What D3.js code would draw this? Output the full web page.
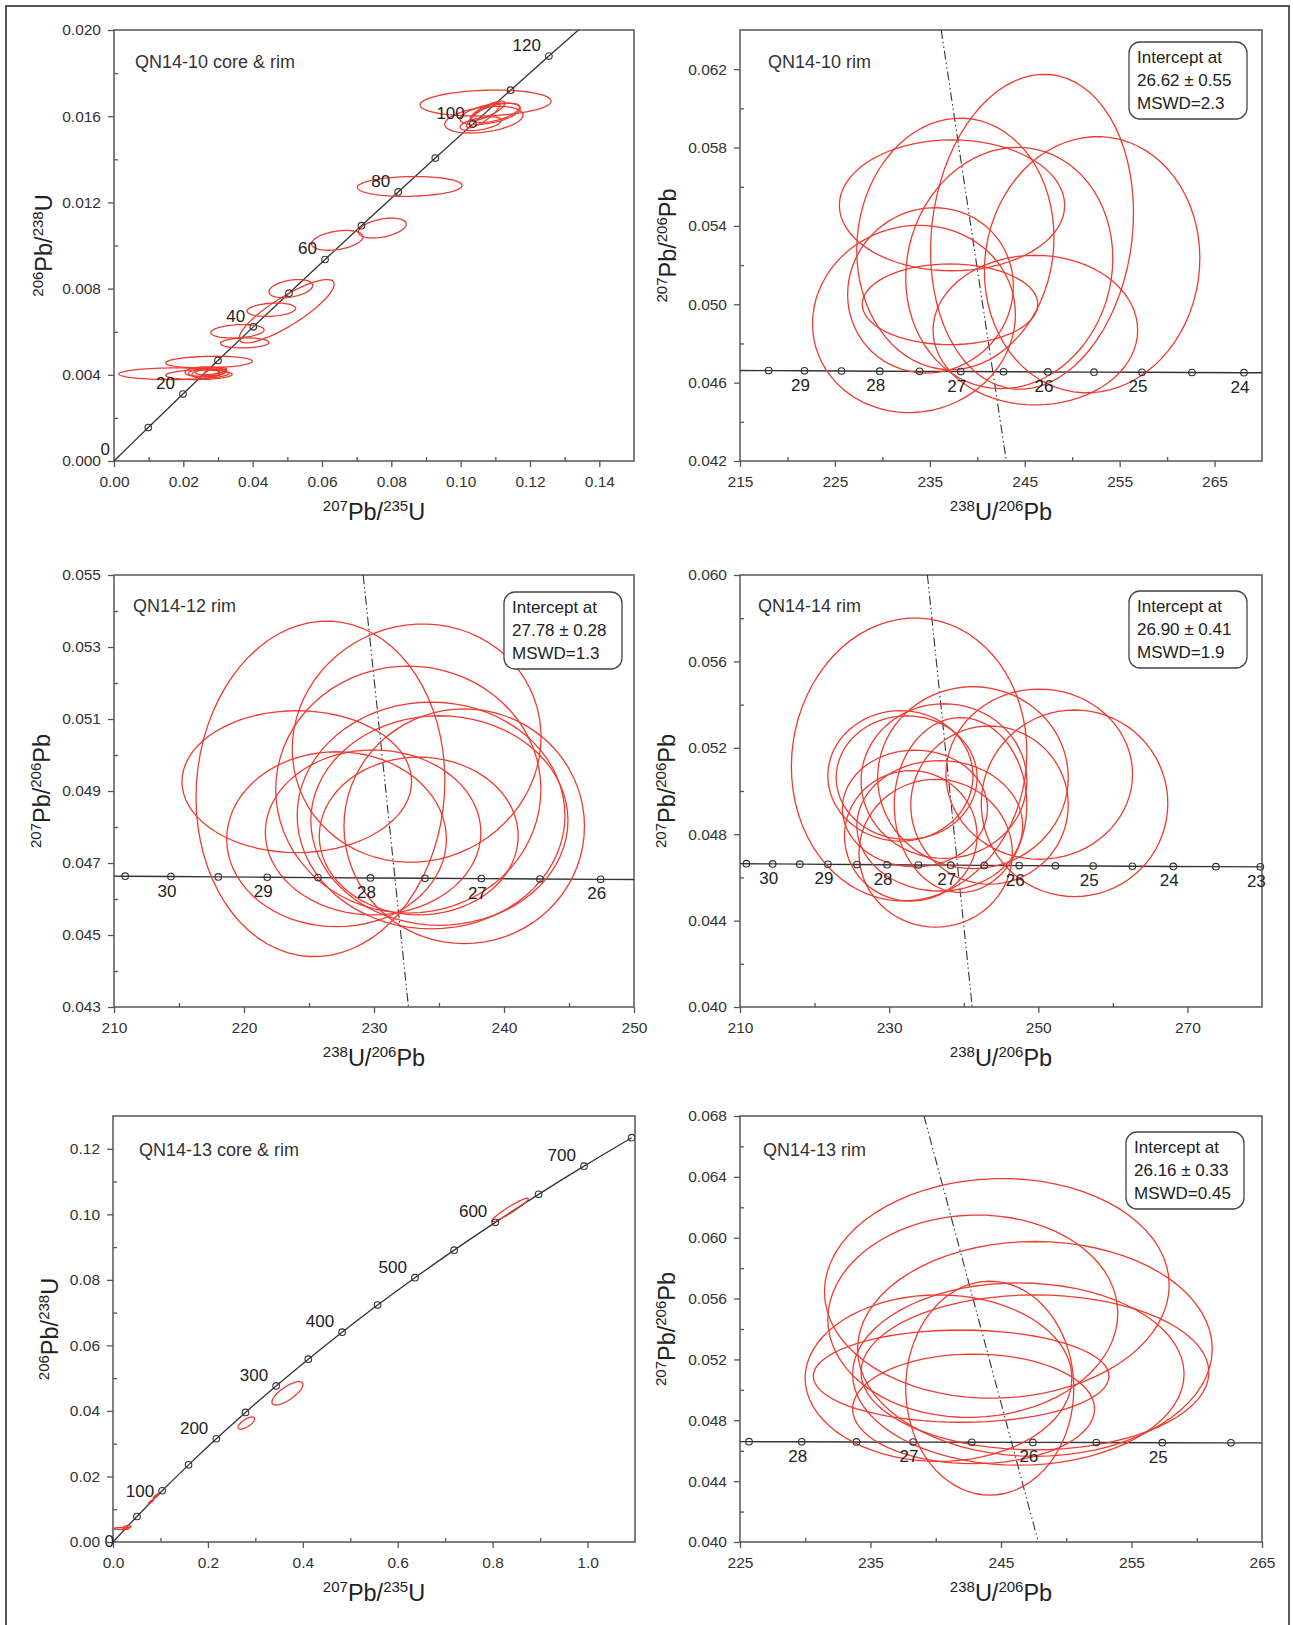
<!DOCTYPE html>
<html>
<head>
<meta charset="utf-8">
<script src="https://cdn.jsdelivr.net/npm/d3@7"></script>
<style>
body{margin:0;background:#fff;}
svg{display:block;font-family:"Liberation Sans",Arial,sans-serif;}
</style>
</head>
<body>
<svg id="fig" width="1293" height="1625"></svg>
<script>
// ---- concordia reference points (age Ma, x, y) ----
const wethAges1 = [0,10,20,30,40,50,60,70,80,90,100,110,120,130];
const wethX1 = [0,0.009897,0.019892,0.029986,0.040180,0.050475,0.060872,0.071372,0.081975,0.092683,0.103497,0.114418,0.125447,0.136587];
const wethY1 = [0,0.0015525,0.0031073,0.0046646,0.0062243,0.0077864,0.009351,0.010918,0.012487,0.014059,0.015633,0.017209,0.018789,0.020370];
const wethLabels1 = [0,20,40,60,80,100,120];

const wethAges5 = [0,50,100,150,200,250,300,350,400,450,500,550,600,650,700,750];
const wethX5 = [0,0.050475,0.103497,0.15920,0.21771,0.27917,0.34374,0.41156,0.48281,0.55766,0.63628,0.71887,0.80563,0.89677,0.99251,1.09308];
const wethY5 = [0,0.0077864,0.015633,0.023541,0.031511,0.039543,0.047637,0.055795,0.064016,0.072300,0.080650,0.089064,0.097544,0.106089,0.114702,0.123378];
const wethLabels5 = [0,100,200,300,400,500,600,700];

const twAges = [31,30.5,30,29.5,29,28.5,28,27.5,27,26.5,26,25.5,25,24.5,24,23.5,23,22.5];
const twX = [207.45,210.86,214.38,218.02,221.79,225.69,229.73,233.92,238.26,242.76,247.44,252.30,257.36,262.62,268.10,273.82,279.78,286.01];
const twY = [0.046643,0.046634,0.046624,0.046614,0.046604,0.046595,0.046585,0.046575,0.046566,0.046556,0.046546,0.046536,0.046527,0.046517,0.046507,0.046498,0.046488,0.046478];

// ---- error ellipses: [cx, cy, half-width x, half-width y, rho] ----
const ell1 = [
  [0.1072,0.01661,0.0189,0.00060,0.15],
  [0.1067,0.01584,0.0113,0.00062,0.35],
  [0.1085,0.01611,0.0087,0.00050,0.5],
  [0.1065,0.01604,0.0048,0.00058,0.85],
  [0.1078,0.01625,0.0050,0.00045,0.8],
  [0.1058,0.01565,0.0060,0.00032,0.5],
  [0.1100,0.01615,0.0070,0.00045,0.6],
  [0.0853,0.01274,0.0151,0.00046,0.1],
  [0.0774,0.01081,0.0069,0.00046,0.4],
  [0.0644,0.01024,0.0074,0.00046,0.35],
  [0.0498,0.00695,0.0137,0.00147,0.85],
  [0.0510,0.00800,0.0063,0.00042,0.35],
  [0.0454,0.00702,0.0070,0.00031,0.2],
  [0.0356,0.00602,0.0077,0.00031,0.2],
  [0.0377,0.00548,0.0070,0.00023,0.1],
  [0.0274,0.00459,0.0125,0.00027,0.15],
  [0.0173,0.00405,0.0159,0.00027,0.05],
  [0.0245,0.00400,0.0096,0.00022,0.1],
  [0.0270,0.00412,0.0055,0.00020,0.3],
  [0.0280,0.00418,0.0045,0.00018,0.4],
  [0.0265,0.00405,0.0040,0.00020,0.2],
  [0.0290,0.00410,0.0030,0.00017,0.3],
  [0.0255,0.00415,0.0050,0.00022,0.2]
];
const ell2 = [
  [245.77,0.05370,10.69,0.00804,0.12],
  [252.10,0.05202,11.35,0.00654,0.05],
  [237.34,0.05505,11.87,0.00334,0.0],
  [237.69,0.05308,10.39,0.00642,0.05],
  [233.33,0.04925,10.69,0.00478,0.05],
  [235.07,0.05071,8.73,0.00422,0.05],
  [237.13,0.05000,9.25,0.00206,0.0],
  [243.37,0.05185,10.91,0.00616,0.08],
  [246.12,0.04868,10.78,0.00382,0.0]
];
const ell3 = [
  [225.88,0.04906,9.57,0.00466,0.05],
  [233.28,0.05033,9.57,0.00331,0.05],
  [224.06,0.04926,8.83,0.00197,0.0],
  [227.12,0.04766,8.45,0.00243,0.0],
  [232.64,0.04904,10.2,0.00343,0.0],
  [234.39,0.04832,10.3,0.00315,0.0],
  [236.94,0.04802,9.25,0.00326,0.0],
  [235.03,0.04818,9.89,0.00291,0.0],
  [229.93,0.04785,8.29,0.00229,0.0],
  [233.44,0.04775,7.65,0.00219,0.0]
];
const ell4 = [
  [232.68,0.05146,15.79,0.00655,0.05],
  [250.13,0.05078,12.51,0.00394,0.0],
  [254.86,0.04943,12.51,0.00432,0.0],
  [241.24,0.05062,12.78,0.00421,0.0],
  [237.35,0.05046,11.12,0.00358,0.0],
  [231.51,0.05070,9.73,0.00302,0.0],
  [232.35,0.05062,9.45,0.00286,0.0],
  [233.46,0.04919,9.73,0.00270,0.0],
  [236.24,0.04712,10.28,0.00342,0.0],
  [232.90,0.04792,8.89,0.00302,0.0],
  [239.57,0.04935,8.89,0.00405,0.0],
  [236.79,0.04839,11.12,0.00302,0.0],
  [243.46,0.04935,10.56,0.00366,0.0]
];
const ell5 = [
  [0.017,0.0041,0.016,0.00030,0.05],
  [0.027,0.0042,0.006,0.00025,0.3],
  [0.030,0.0046,0.008,0.00040,0.3],
  [0.080,0.0123,0.0055,0.0006,0.9],
  [0.091,0.0141,0.0063,0.0007,0.9],
  [0.281,0.0363,0.0174,0.00184,0.7],
  [0.3676,0.04538,0.0327,0.00357,0.75],
  [0.8365,0.10134,0.0385,0.00357,0.95]
];
const ell6 = [
  [244.68,0.05667,13.21,0.00722,0.03],
  [242.84,0.05484,11.11,0.00665,0.03],
  [244.14,0.05011,6.44,0.00703,0.0],
  [240.21,0.05077,10.22,0.00547,0.0],
  [241.95,0.05090,11.33,0.00303,0.0],
  [242.90,0.04875,9.27,0.00360,0.0],
  [246.33,0.05104,12.70,0.00599,0.0],
  [247.60,0.05269,13.59,0.00706,0.0],
  [247.60,0.05115,13.33,0.00509,0.0]
];

// ---- regression (discordia) lines: two end points ----
const disc2 = [[236.2,0.064],[243.06,0.042]];
const disc3 = [[229.17,0.055],[232.65,0.043]];
const disc4 = [[235.13,0.060],[241.14,0.040]];
const disc6 = [[239.1,0.068],[247.86,0.040]];

const icpt2 = ["Intercept at","26.62 \u00b1 0.55","MSWD=2.3"];
const icpt3 = ["Intercept at","27.78 \u00b1 0.28","MSWD=1.3"];
const icpt4 = ["Intercept at","26.90 \u00b1 0.41","MSWD=1.9"];
const icpt6 = ["Intercept at","26.16 \u00b1 0.33","MSWD=0.45"];

// ---- ticks ----
const p1XTicks=[0,0.02,0.04,0.06,0.08,0.10,0.12,0.14], p1XMinor=[0.01,0.03,0.05,0.07,0.09,0.11,0.13];
const p1YTicks=[0,0.004,0.008,0.012,0.016,0.020], p1YMinor=[0.002,0.006,0.010,0.014,0.018];
const p2XTicks=[215,225,235,245,255,265], p2XMinor=[220,230,240,250,260];
const p2YTicks=[0.042,0.046,0.050,0.054,0.058,0.062], p2YMinor=[0.044,0.048,0.052,0.056,0.060];
const p3XTicks=[210,220,230,240,250], p3XMinor=[215,225,235,245];
const p3YTicks=[0.043,0.045,0.047,0.049,0.051,0.053,0.055], p3YMinor=[0.044,0.046,0.048,0.050,0.052,0.054];
const p4XTicks=[210,230,250,270], p4XMinor=[220,240,260];
const p4YTicks=[0.040,0.044,0.048,0.052,0.056,0.060], p4YMinor=[0.042,0.046,0.050,0.054,0.058];
const p5XTicks=[0,0.2,0.4,0.6,0.8,1.0], p5XMinor=[0.1,0.3,0.5,0.7,0.9];
const p5YTicks=[0,0.02,0.04,0.06,0.08,0.10,0.12], p5YMinor=[0.01,0.03,0.05,0.07,0.09,0.11];
const p6XTicks=[225,235,245,255,265], p6XMinor=[230,240,250,260];
const p6YTicks=[0.040,0.044,0.048,0.052,0.056,0.060,0.064,0.068], p6YMinor=[0.042,0.046,0.050,0.054,0.058,0.062,0.066];

const labWX=[["207",1],["Pb/",0],["235",1],["U",0]];
const labWY=[["206",1],["Pb/",0],["238",1],["U",0]];
const labTX=[["238",1],["U/",0],["206",1],["Pb",0]];
const labTY=[["207",1],["Pb/",0],["206",1],["Pb",0]];

const RED="#ee3b30", INK="#333";

const fig=d3.select("#fig");
fig.append("rect").attr("x",6).attr("y",6).attr("width",1283).attr("height",1640)
  .attr("fill","none").attr("stroke","#222").attr("stroke-width",1.5);

function richText(g,parts,x,y,rot){
  const t=g.append("text").attr("text-anchor","middle").attr("fill","#222")
    .attr("transform",`translate(${x},${y})`+(rot?" rotate(-90)":""));
  let up=false;
  parts.forEach(([s,sup])=>{
    const ts=t.append("tspan").text(s).attr("font-size",sup?15:23.5);
    if(sup&&!up){ts.attr("dy",-9);up=true;}
    else if(!sup&&up){ts.attr("dy",9);up=false;}
  });
}

function ellipsePath(x,y,e){
  const [cx,cy,sx,sy,r]=e, k=Math.sqrt(1-r*r);
  const pts=d3.range(72).map(i=>{
    const t=i/72*2*Math.PI;
    return [x(cx+sx*Math.cos(t)), y(cy+sy*(r*Math.cos(t)+k*Math.sin(t)))];
  });
  return d3.line().curve(d3.curveLinearClosed)(pts);
}

function drawPanel(c){
  const x=d3.scaleLinear().domain(c.xd).range([c.left,c.left+c.w]);
  const y=d3.scaleLinear().domain(c.yd).range([c.top+c.h,c.top]);
  const g=fig.append("g");
  const cid="clip"+c.id;
  g.append("clipPath").attr("id",cid).append("rect")
    .attr("x",c.left).attr("y",c.top).attr("width",c.w).attr("height",c.h);

  // axes
  const ax=g.append("g").attr("transform",`translate(0,${c.top+c.h})`)
    .call(d3.axisBottom(x).tickValues(c.xt).tickSize(6).tickPadding(9).tickFormat(d3.format(c.xf)));
  const axm=g.append("g").attr("transform",`translate(0,${c.top+c.h})`)
    .call(d3.axisBottom(x).tickValues(c.xm).tickSize(-4).tickFormat(""));
  const ay=g.append("g").attr("transform",`translate(${c.left},0)`)
    .call(d3.axisLeft(y).tickValues(c.yt).tickSize(6).tickPadding(7).tickFormat(d3.format(c.yf)));
  const aym=g.append("g").attr("transform",`translate(${c.left},0)`)
    .call(d3.axisLeft(y).tickValues(c.ym).tickSize(-4).tickFormat(""));
  [ax,axm,ay,aym].forEach(a=>{
    a.select(".domain").remove();
    a.selectAll("line").attr("stroke","#555").attr("stroke-width",1.3);
    a.selectAll("text").attr("font-size",15.5).attr("fill",INK)
      .attr("font-family","'Liberation Sans',Arial,sans-serif");
  });
  g.append("rect").attr("x",c.left).attr("y",c.top).attr("width",c.w).attr("height",c.h)
    .attr("fill","none").attr("stroke","#555").attr("stroke-width",1.5);

  richText(g,c.xlab,c.left+c.w/2,c.top+c.h+59,false);
  richText(g,c.ylab,c.left+c.ylx,c.top+c.h/2,true);

  g.append("text").attr("x",c.left+c.tdx).attr("y",c.top+c.tdy).attr("font-size",18)
    .attr("fill",INK).text(c.title);

  const pg=g.append("g").attr("clip-path",`url(#${cid})`);
  const line=d3.line().x(d=>x(d[0])).y(d=>y(d[1]));

  if(c.kind==="w"){
    const pts=c.ages.map((a,i)=>[c.cx[i],c.cy[i],a]);
    pg.append("path").attr("d",line.curve(d3.curveCatmullRom)(pts))
      .attr("fill","none").attr("stroke",INK).attr("stroke-width",1.3);
    pg.selectAll("path.ell").data(c.ell).join("path").attr("class","ell")
      .attr("d",e=>ellipsePath(x,y,e)).attr("fill","none").attr("stroke",RED).attr("stroke-width",1.3);
    pg.selectAll("circle").data(pts.filter(p=>p[2]>0&&p[0]<=c.xd[1]&&p[1]<=c.yd[1])).join("circle")
      .attr("cx",p=>x(p[0])).attr("cy",p=>y(p[1])).attr("r",3.3)
      .attr("fill","none").attr("stroke",INK).attr("stroke-width",1.1);
    pts.filter(p=>c.labels.includes(p[2])).forEach(p=>{
      let dx=-8, dy=-5;
      if(p[2]===0){dx=c.zeroDx;dy=c.zeroDy;}
      if(c.id===5&&p[2]===100){dy=6;}
      g.append("text").attr("x",x(p[0])+dx).attr("y",y(p[1])+dy).attr("text-anchor","end")
        .attr("font-size",17).attr("fill","#222").text(p[2]);
    });
  } else {
    const pts=twAges.map((a,i)=>[twX[i],twY[i],a]);
    pg.append("path").attr("d",line(pts))
      .attr("fill","none").attr("stroke",INK).attr("stroke-width",1.4);
    pg.append("path").attr("d",line(c.disc))
      .attr("fill","none").attr("stroke","#333").attr("stroke-width",1.1)
      .attr("stroke-dasharray","9,3,1.5,3,1.5,3");
    pg.selectAll("path.ell").data(c.ell).join("path").attr("class","ell")
      .attr("d",e=>ellipsePath(x,y,e)).attr("fill","none").attr("stroke",RED).attr("stroke-width",1.3);
    const inside=pts.filter(p=>p[0]>=c.xd[0]&&p[0]<=c.xd[1]);
    g.selectAll("circle.m").data(inside).join("circle").attr("class","m")
      .attr("cx",p=>x(p[0])).attr("cy",p=>y(p[1])).attr("r",3.3)
      .attr("fill","none").attr("stroke",INK).attr("stroke-width",1.1);
    inside.filter(p=>Number.isInteger(p[2])).forEach(p=>{
      g.append("text").attr("x",x(p[0])-4).attr("y",y(p[1])+20).attr("text-anchor","middle")
        .attr("font-size",17).attr("fill","#222").text(p[2]);
    });
    const b=g.append("g").attr("transform",`translate(${c.bx},${c.by})`);
    b.append("rect").attr("width",118).attr("height",77).attr("rx",11)
      .attr("fill","#fff").attr("stroke","#444").attr("stroke-width",1.3);
    c.icpt.forEach((s,i)=>b.append("text").attr("x",8).attr("y",21+i*23)
      .attr("font-size",17).attr("fill","#222").text(s));
  }
}

drawPanel({id:1,kind:"w",left:114,top:30,w:520,h:431,xd:[0,0.15],yd:[0,0.020],
  xt:p1XTicks,xm:p1XMinor,yt:p1YTicks,ym:p1YMinor,xf:".2f",yf:".3f",
  title:"QN14-10 core & rim",tdx:21,tdy:38,xlab:labWX,ylab:labWY,ylx:-62,
  ages:wethAges1,cx:wethX1,cy:wethY1,labels:wethLabels1,ell:ell1,zeroDx:-4,zeroDy:-6});
drawPanel({id:2,kind:"t",left:740,top:30,w:522,h:431,xd:[215,270],yd:[0.042,0.064],
  xt:p2XTicks,xm:p2XMinor,yt:p2YTicks,ym:p2YMinor,xf:"d",yf:".3f",
  title:"QN14-10 rim",tdx:28,tdy:38,xlab:labTX,ylab:labTY,ylx:-64,
  ell:ell2,disc:disc2,icpt:icpt2,bx:1129,by:42});
drawPanel({id:3,kind:"t",left:114,top:575,w:520,h:432,xd:[210,250],yd:[0.043,0.055],
  xt:p3XTicks,xm:p3XMinor,yt:p3YTicks,ym:p3YMinor,xf:"d",yf:".3f",
  title:"QN14-12 rim",tdx:19,tdy:37,xlab:labTX,ylab:labTY,ylx:-64,
  ell:ell3,disc:disc3,icpt:icpt3,bx:504,by:592});
drawPanel({id:4,kind:"t",left:740,top:575,w:522,h:432,xd:[210,280],yd:[0.040,0.060],
  xt:p4XTicks,xm:p4XMinor,yt:p4YTicks,ym:p4YMinor,xf:"d",yf:".3f",
  title:"QN14-14 rim",tdx:18,tdy:37,xlab:labTX,ylab:labTY,ylx:-65,
  ell:ell4,disc:disc4,icpt:icpt4,bx:1129,by:591});
drawPanel({id:5,kind:"w",left:113,top:1116,w:522,h:426,xd:[0,1.1],yd:[0,0.13],
  xt:p5XTicks,xm:p5XMinor,yt:p5YTicks,ym:p5YMinor,xf:".1f",yf:".2f",
  title:"QN14-13 core & rim",tdx:26,tdy:40,xlab:labWX,ylab:labWY,ylx:-55,
  ages:wethAges5,cx:wethX5,cy:wethY5,labels:wethLabels5,ell:ell5,zeroDx:1,zeroDy:5});
drawPanel({id:6,kind:"t",left:740,top:1116,w:522,h:426,xd:[225,265],yd:[0.040,0.068],
  xt:p6XTicks,xm:p6XMinor,yt:p6YTicks,ym:p6YMinor,xf:"d",yf:".3f",
  title:"QN14-13 rim",tdx:23,tdy:40,xlab:labTX,ylab:labTY,ylx:-65,
  ell:ell6,disc:disc6,icpt:icpt6,bx:1126,by:1132});
</script>
</body>
</html>
